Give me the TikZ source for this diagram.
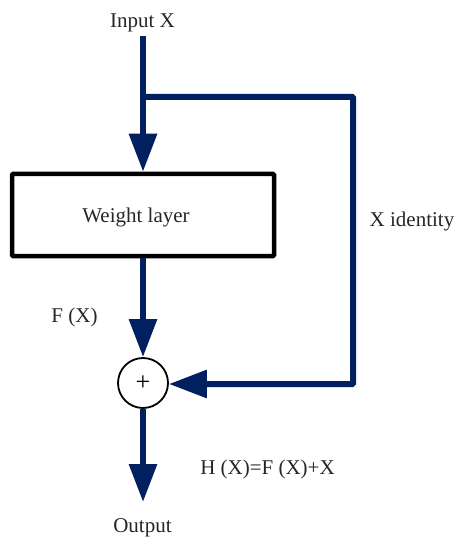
\documentclass[tikz,border=0pt]{standalone}
\usepackage{fontspec}
\setmainfont{Liberation Serif}
\usetikzlibrary{arrows.meta}
\definecolor{navy}{RGB}{0,32,96}
\begin{document}
\begin{tikzpicture}[x=1pt,y=-1pt,
  lbl/.style={inner sep=0pt, anchor=base, font=\fontsize{21}{24}\selectfont, text=black!85},
  flow/.style={draw=navy, line width=6pt, -{Triangle[length=38pt,width=27pt]}},
  boxst/.style={draw=black, line width=4.5pt, rounded corners=1pt, minimum width=262pt, minimum height=82pt, inner sep=0pt},
  sumst/.style={circle, draw=black, line width=1.8pt, minimum size=50pt, inner sep=0pt, fill=white}]
\useasboundingbox (0,0) rectangle (455,537);
\node[lbl] (in) at (142.5,27.5) {Input X};
\node[boxst] (w) at (143,215) {};
\node[lbl] (wt) at (136,222.5) {Weight layer};
\node[sumst] (s) at (143,383) {\fontsize{26}{26}\selectfont +};
\node[lbl] (out) at (142.5,532.5) {Output};
\node[lbl] (fx) at (74.5,322) {F (X)};
\node[lbl] (xid) at (412,226.5) {X identity};
\node[lbl] (hx) at (267.5,474) {H (X)=F (X)+X};
\coordinate (br) at (143,97);
\coordinate (c1) at (353,97);
\coordinate (c2) at (353,384);
\coordinate (oe) at (143,502);
\draw[draw=navy, line width=6pt] (143,36) -- (br);
\draw[flow] (br) -- (w.north);
\draw[flow] (w.south) -- (s.north);
\draw[flow, rounded corners=1pt] (br) -- (c1) -- (c2) -- (s.east |- c2);
\draw[flow] (s.south) -- (oe);
\end{tikzpicture}
\end{document}
